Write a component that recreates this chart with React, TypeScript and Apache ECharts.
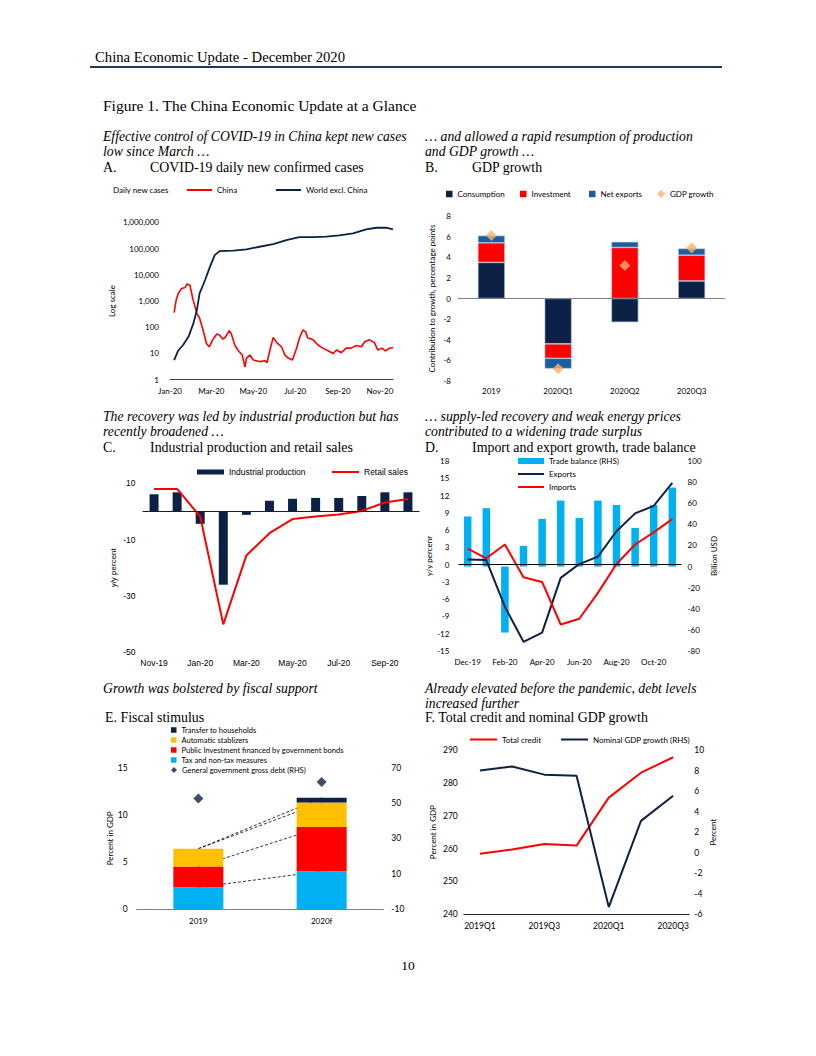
import React, { useEffect, useRef } from 'react';
import * as echarts from 'echarts';

const NAVY = '#0C2145';
const RED = '#FF0000';
const SKY = '#00B0F0';
const GOLD = '#FFC000';
const MIDBLUE = '#1B5E9E';
const ORANGE = '#F9B26A';

// ---------- Panel A: COVID-19 daily new confirmed cases ----------
const covidTickDates = ['2020-01-01', '2020-03-01', '2020-05-01', '2020-07-01', '2020-09-01', '2020-11-01'];
const chinaDates = ['2020-01-07', '2020-01-10', '2020-01-13', '2020-01-18', '2020-01-23', '2020-01-26', '2020-01-30', '2020-02-03', '2020-02-09', '2020-02-13', '2020-02-18', '2020-02-23', '2020-02-27', '2020-03-03', '2020-03-09', '2020-03-13', '2020-03-18', '2020-03-22', '2020-03-27', '2020-03-30', '2020-04-04', '2020-04-09', '2020-04-15', '2020-04-19', '2020-04-21', '2020-04-26', '2020-05-01', '2020-05-10', '2020-05-18', '2020-05-21', '2020-05-25', '2020-05-30', '2020-06-04', '2020-06-11', '2020-06-16', '2020-06-20', '2020-06-27', '2020-07-03', '2020-07-07', '2020-07-12', '2020-07-16', '2020-07-19', '2020-07-27', '2020-08-03', '2020-08-10', '2020-08-17', '2020-08-25', '2020-08-30', '2020-09-06', '2020-09-13', '2020-09-20', '2020-09-28', '2020-10-05', '2020-10-10', '2020-10-17', '2020-10-24', '2020-10-29', '2020-11-04', '2020-11-09', '2020-11-14', '2020-11-20'];
const chinaCases = [360, 1100, 1950, 3000, 3300, 4500, 4000, 1260, 340, 220, 78, 24, 18, 33, 55, 50, 35, 44, 74, 58, 21, 13, 8.7, 3, 6.5, 8.7, 5.6, 4.9, 5.3, 4.5, 13, 41, 26, 18, 8.7, 6.9, 5.6, 16, 38, 78, 68, 40, 33, 21, 16, 13, 10, 13.5, 10.7, 16, 16, 20, 18, 28, 33, 26, 13.5, 16, 12.6, 15.5, 17];
const worldDates = ['2020-01-07', '2020-01-13', '2020-01-20', '2020-01-28', '2020-02-04', '2020-02-09', '2020-02-13', '2020-02-21', '2020-02-28', '2020-03-06', '2020-03-13', '2020-04-02', '2020-04-21', '2020-05-10', '2020-05-30', '2020-06-18', '2020-07-07', '2020-07-27', '2020-08-15', '2020-09-03', '2020-09-23', '2020-10-12', '2020-10-27', '2020-11-10', '2020-11-20'];
const worldCases = [5.6, 13, 21, 44, 140, 450, 1950, 6300, 20000, 56000, 80000, 83000, 93000, 117000, 148000, 210000, 270000, 270000, 282000, 316000, 380000, 537000, 620000, 620000, 540000];

// ---------- Panel B: GDP growth ----------
const gdpCategories = ['2019', '2020Q1', '2020Q2', '2020Q3'];
const consumption = [3.5, -4.4, -2.3, 1.7];
const investment = [1.9, -1.4, 4.95, 2.5];
const netExports = [0.7, -1.0, 0.55, 0.65];
const gdpGrowth = [6.1, -6.8, 3.2, 4.9];

// ---------- Panel C: Industrial production and retail sales ----------
const ipMonths = ['Nov-19', 'Dec-19', 'Jan-20', 'Feb-20', 'Mar-20', 'Apr-20', 'May-20', 'Jun-20', 'Jul-20', 'Aug-20', 'Sep-20', 'Oct-20'];
const industrialProduction = [6.1, 6.8, -4.4, -26, -1.2, 3.8, 4.5, 4.8, 4.8, 5.5, 6.8, 6.8];
const retailSales = [8, 8, -1.8, -40.1, -15.6, -7.7, -2.7, -1.8, -1.1, 0.2, 3.2, 4.4];

// ---------- Panel D: Import and export growth, trade balance ----------
const tradeMonths = ['Dec-19', 'Jan-20', 'Feb-20', 'Mar-20', 'Apr-20', 'May-20', 'Jun-20', 'Jul-20', 'Aug-20', 'Sep-20', 'Oct-20', 'Nov-20'];
const tradeBalance = [47.4, 55.3, -62.5, 19.6, 45.2, 62.5, 46.1, 62.5, 58.4, 36.6, 58.4, 74.8];
const exportGrowth = [0.9, 0.8, -7.3, -13.4, -11.8, -2.3, 0.1, 1.4, 5.8, 8.9, 10.2, 14.2];
const importGrowth = [2.8, 1.1, 3.5, -2.2, -3.0, -10.4, -9.4, -4.9, 0.1, 3.5, 5.6, 7.9];

// ---------- Panel E: Fiscal stimulus ----------
const fiscalYears = ['2019', '2020f'];
const taxMeasures = [2.3, 4.0];
const publicInvestment = [2.2, 4.7];
const autoStabilizers = [1.9, 2.6];
const householdTransfers = [0, 0.5];
const govDebt = [52.5, 61.9];
const debtTicks = [-10, 10, 30, 50, 70];

// ---------- Panel F: Total credit and nominal GDP growth ----------
const creditQuarters = ['2019Q1', '2019Q2', '2019Q3', '2019Q4', '2020Q1', '2020Q2', '2020Q3'];
const totalCredit = [258.4, 259.7, 261.4, 260.9, 275.5, 283.1, 287.8];
const nominalGdpGrowth = [8.0, 8.4, 7.6, 7.5, -5.3, 3.1, 5.55];

const MONTHS = ['Jan', 'Feb', 'Mar', 'Apr', 'May', 'Jun', 'Jul', 'Aug', 'Sep', 'Oct', 'Nov', 'Dec'];
const ts = (s: string) => {
  const [y, m, d] = s.split('-').map(Number);
  return new Date(y, m - 1, d).getTime();
};

const SANS = 'Lato';
const ARIAL = 'Liberation Sans';
const SERIF = 'Liberation Serif';

const lab = (size = 8, family = SANS, extra: any = {}) => ({ fontSize: size, fontFamily: family, color: '#000', ...extra });

const txt = (text: string, x: number, y: number, size: number, extra: any = {}) => ({
  type: 'text',
  x,
  y,
  silent: true,
  style: { text, fontSize: size, fontFamily: SERIF, fill: '#000', verticalAlign: 'middle', ...extra },
});

const leg = (name: string, left: number, cy: number, icon: string, w: number, h: number, size = 8, family = SANS) => ({
  data: [name],
  left,
  top: cy - 5,
  icon,
  itemWidth: w,
  itemHeight: h,
  padding: 0,
  selectedMode: false,
  itemStyle: { borderWidth: 0 },
  textStyle: { fontSize: size, fontFamily: family, color: '#000', lineHeight: 10 },
});

const cum = (arrs: number[][], k: number) => arrs[0].map((_, i) => arrs.slice(0, k + 1).reduce((s, a) => s + a[i], 0));

function buildOption() {
  const it = { fontStyle: 'italic' };
  const S = 13.7;
  const H = 13.9;
  const graphic: any[] = [
    txt('China Economic Update - December 2020', 95, 57, 14.7),
    { type: 'line', silent: true, shape: { x1: 90, y1: 67, x2: 722, y2: 67 }, style: { stroke: '#1F3864', lineWidth: 2 } },
    txt('Figure 1. The China Economic Update at a Glance', 103, 105, 15.5),
    txt('Effective control of COVID-19 in China kept new cases', 103, 136, S, it),
    txt('low since March …', 103, 151.5, S, it),
    txt('A.', 103, 167, H),
    txt('COVID-19 daily new confirmed cases', 150, 167, H),
    txt('… and allowed a rapid resumption of production', 425, 136, S, it),
    txt('and GDP growth …', 425, 151.5, S, it),
    txt('B.', 425, 167, H),
    txt('GDP growth', 472, 167, H),
    txt('The recovery was led by industrial production but has', 103, 416, S, it),
    txt('recently broadened …', 103, 431.5, S, it),
    txt('C.', 103, 447, H),
    txt('Industrial production and retail sales', 150, 447, H),
    txt('… supply-led recovery and weak energy prices', 425, 416, S, it),
    txt('contributed to a widening trade surplus', 425, 431.5, S, it),
    txt('D.', 425, 447, H),
    txt('Import and export growth, trade balance', 472, 447, H),
    txt('Growth was bolstered by fiscal support', 103, 688, S, it),
    txt('E. Fiscal stimulus', 105, 717, H),
    txt('Already elevated before the pandemic, debt levels', 425, 688, S, it),
    txt('increased further', 425, 703, S, it),
    txt('F. Total credit and nominal GDP growth', 425, 717, H),
    txt('10', 408, 965, 13.5, { align: 'center' }),
    {
      type: 'text', x: 113, y: 190, silent: true,
      style: { text: 'Daily new cases', fontSize: 8, fontFamily: SANS, fill: '#000', verticalAlign: 'middle' },
    },
  ];

  const legend: any[] = [
    leg('China', 187, 190, 'rect', 25, 2),
    leg('World excl. China', 276, 190, 'rect', 25, 2),
    leg('Consumption', 446, 194, 'rect', 6.5, 6.5),
    leg('Investment', 520, 194, 'rect', 6.5, 6.5),
    leg('Net exports', 589, 194, 'rect', 6.5, 6.5),
    leg('GDP growth', 657, 194, 'diamond', 8, 8),
    leg('Industrial production', 197, 472, 'rect', 27, 5, 8.5, ARIAL),
    leg('Retail sales', 332, 472, 'rect', 27, 2, 8.5, ARIAL),
    leg('Trade balance (RHS)', 518, 461, 'rect', 26, 6),
    leg('Exports', 518, 474, 'rect', 26, 2),
    leg('Imports', 518, 487, 'rect', 26, 2),
    leg('Transfer to households', 171, 730, 'rect', 5.5, 5.5, 7.5),
    leg('Automatic stablizers', 171, 740, 'rect', 5.5, 5.5, 7.5),
    leg('Public Investment financed by government bonds', 171, 750, 'rect', 5.5, 5.5, 7.5),
    leg('Tax and non-tax measures', 171, 760, 'rect', 5.5, 5.5, 7.5),
    leg('General government gross debt (RHS)', 171, 770, 'diamond', 6, 6, 7.5),
    leg('Total credit', 470, 739.5, 'rect', 27, 2),
    leg('Nominal GDP growth (RHS)', 561, 739.5, 'rect', 27, 2),
  ];

  const g = (left: number, top: number, width: number, height: number) => ({ left, top, width, height, containLabel: false });
  const grid = [
    g(170, 222.3, 223, 157.4),
    g(458, 216, 267, 165),
    g(142.5, 483.3, 277, 169),
    g(458.4, 461, 223.2, 190),
    g(136.7, 767.7, 246.6, 141.3),
    g(463.8, 750, 225.5, 164.3),
  ];

  const noLine = { show: false };
  const xAxis: any[] = [
    {
      type: 'value', gridIndex: 0, min: ts('2020-01-01'), max: ts('2020-11-20'),
      axisLine: { show: true, onZero: false, lineStyle: { color: '#404040', width: 1 } },
      axisTick: noLine, splitLine: noLine,
      axisLabel: {
        ...lab(8), margin: 7,
        customValues: covidTickDates.map(ts),
        formatter: (v: number) => { const d = new Date(v); return MONTHS[d.getMonth()] + '-' + String(d.getFullYear()).slice(2); },
      },
    },
    {
      type: 'category', gridIndex: 1, data: gdpCategories,
      axisLine: noLine, axisTick: noLine, axisLabel: { ...lab(8), margin: 6 },
    },
    {
      type: 'category', gridIndex: 2, data: ipMonths,
      axisLine: noLine, axisTick: noLine, axisLabel: { ...lab(8.5, ARIAL), margin: 6, interval: 1 },
    },
    {
      type: 'category', gridIndex: 3, data: tradeMonths,
      axisLine: noLine, axisTick: noLine, axisLabel: { ...lab(8), margin: 7, interval: 1 },
    },
    {
      type: 'category', gridIndex: 4, data: fiscalYears,
      axisLine: { show: true, onZero: false, lineStyle: { color: '#808080', width: 1 } }, axisTick: noLine,
      axisLabel: { ...lab(8), margin: 8 },
    },
    {
      type: 'category', gridIndex: 5, data: creditQuarters,
      axisLine: { show: true, onZero: false, lineStyle: { color: '#262626', width: 1 } }, axisTick: noLine,
      axisLabel: { ...lab(8.5), margin: 7, interval: 1 },
    },
  ];

  const nameStyle = (family = SANS, size = 8) => ({ fontSize: size, fontFamily: family, color: '#000' });
  const yAxis: any[] = [
    {
      type: 'log', logBase: 10, gridIndex: 0, min: 1, max: 1000000,
      axisLine: noLine, axisTick: noLine, splitLine: noLine,
      axisLabel: { ...lab(8), margin: 11, formatter: (v: number) => Math.round(v).toLocaleString('en-US') },
      name: 'Log scale', nameLocation: 'middle', nameGap: 54, nameTextStyle: nameStyle(),
    },
    {
      type: 'value', gridIndex: 1, min: -8, max: 8, interval: 2,
      axisLine: noLine, axisTick: noLine, splitLine: noLine,
      axisLabel: { ...lab(8), margin: 7 },
      name: 'Contribution to growth, percentage points', nameLocation: 'middle', nameGap: 22, nameTextStyle: nameStyle(),
    },
    {
      type: 'value', gridIndex: 2, min: -50, max: 10, interval: 20,
      axisLine: noLine, axisTick: noLine, splitLine: noLine,
      axisLabel: { ...lab(8.5, ARIAL), margin: 7, customValues: [-50, -30, -10, 10] },
      name: 'y/y percent', nameLocation: 'middle', nameGap: 25, nameTextStyle: nameStyle(ARIAL),
    },
    {
      type: 'value', gridIndex: 3, min: -15, max: 18, interval: 3,
      axisLine: noLine, axisTick: noLine, splitLine: noLine,
      axisLabel: { ...lab(8), margin: 9 },
      name: 'y/y percenr', nameLocation: 'middle', nameGap: 24, nameTextStyle: nameStyle(),
    },
    {
      type: 'value', gridIndex: 3, position: 'right', min: -80, max: 100, interval: 20,
      axisLine: noLine, axisTick: noLine, splitLine: noLine,
      axisLabel: { ...lab(8), margin: 6 },
      name: 'Billion USD', nameLocation: 'middle', nameGap: 28, nameRotate: 90, nameTextStyle: nameStyle(),
    },
    {
      type: 'value', gridIndex: 4, min: 0, max: 15, interval: 5,
      axisLine: noLine, axisTick: noLine, splitLine: noLine,
      axisLabel: { ...lab(8.5), margin: 9 },
      name: 'Percent in GDP', nameLocation: 'middle', nameGap: 21, nameTextStyle: nameStyle(),
    },
    {
      type: 'value', gridIndex: 4, position: 'right', min: -10, max: 70, interval: 20,
      axisLine: noLine, axisTick: noLine, splitLine: noLine,
      axisLabel: { ...lab(8.5), margin: 8, customValues: debtTicks },
    },
    {
      type: 'value', gridIndex: 5, min: 240, max: 290, interval: 10,
      axisLine: noLine, axisTick: noLine, splitLine: noLine,
      axisLabel: { ...lab(8.5), margin: 6 },
      name: 'Percent in GDP', nameLocation: 'middle', nameGap: 27, nameTextStyle: nameStyle(),
    },
    {
      type: 'value', gridIndex: 5, position: 'right', min: -6, max: 10, interval: 2,
      axisLine: noLine, axisTick: noLine, splitLine: noLine,
      axisLabel: { ...lab(8.5), margin: 5 },
      name: 'Percent', nameLocation: 'middle', nameGap: 20, nameRotate: 90, nameTextStyle: nameStyle(),
    },
  ];

  const zeroLine = (color: string, width = 1) => ({
    silent: true, symbol: ['none', 'none'], label: { show: false },
    lineStyle: { color, width, type: 'solid' }, data: [{ yAxis: 0 }],
  });

  const fiscalStack = [taxMeasures, publicInvestment, autoStabilizers, householdTransfers];
  const connector = (k: number) => ({
    type: 'line', xAxisIndex: 4, yAxisIndex: 5, z: 1, symbol: 'none', silent: true,
    data: cum(fiscalStack, k),
    lineStyle: { color: '#000', width: 0.8, type: [3, 2] },
    itemStyle: { color: '#000' },
  });

  const series: any[] = [
    // A
    {
      name: 'China', type: 'line', xAxisIndex: 0, yAxisIndex: 0, symbol: 'none',
      data: chinaDates.map((d, i) => [ts(d), chinaCases[i]]),
      lineStyle: { color: RED, width: 1.6 }, itemStyle: { color: RED },
    },
    {
      name: 'World excl. China', type: 'line', xAxisIndex: 0, yAxisIndex: 0, symbol: 'none',
      data: worldDates.map((d, i) => [ts(d), worldCases[i]]),
      lineStyle: { color: NAVY, width: 1.8 }, itemStyle: { color: NAVY },
    },
    // B
    {
      name: 'Consumption', type: 'bar', xAxisIndex: 1, yAxisIndex: 1, stack: 'gdp', barWidth: 27,
      data: consumption, itemStyle: { color: NAVY, borderColor: '#B4C7E7', borderWidth: 0.6 },
      markLine: zeroLine('#7F7F7F', 1),
    },
    {
      name: 'Investment', type: 'bar', xAxisIndex: 1, yAxisIndex: 1, stack: 'gdp', barWidth: 27,
      data: investment, itemStyle: { color: RED, borderColor: '#B4C7E7', borderWidth: 0.6 },
    },
    {
      name: 'Net exports', type: 'bar', xAxisIndex: 1, yAxisIndex: 1, stack: 'gdp', barWidth: 27,
      data: netExports, itemStyle: { color: MIDBLUE, borderColor: '#B4C7E7', borderWidth: 0.6 },
    },
    {
      name: 'GDP growth', type: 'scatter', xAxisIndex: 1, yAxisIndex: 1, symbol: 'diamond', symbolSize: 11,
      data: gdpGrowth, itemStyle: { color: ORANGE }, z: 5,
    },
    // C
    {
      name: 'Industrial production', type: 'bar', xAxisIndex: 2, yAxisIndex: 2, barWidth: 9,
      data: industrialProduction, itemStyle: { color: NAVY },
      markLine: zeroLine('#1A1A2E', 1.2),
    },
    {
      name: 'Retail sales', type: 'line', xAxisIndex: 2, yAxisIndex: 2, symbol: 'none',
      data: retailSales, lineStyle: { color: RED, width: 2 }, itemStyle: { color: RED }, z: 4,
    },
    // D
    {
      name: 'Trade balance (RHS)', type: 'bar', xAxisIndex: 3, yAxisIndex: 4, barWidth: 7.5,
      data: tradeBalance, itemStyle: { color: SKY },
    },
    {
      name: 'Exports', type: 'line', xAxisIndex: 3, yAxisIndex: 3, symbol: 'none',
      data: exportGrowth, lineStyle: { color: NAVY, width: 2 }, itemStyle: { color: NAVY }, z: 4,
      markLine: zeroLine('#000', 1.2),
    },
    {
      name: 'Imports', type: 'line', xAxisIndex: 3, yAxisIndex: 3, symbol: 'none',
      data: importGrowth, lineStyle: { color: RED, width: 2 }, itemStyle: { color: RED }, z: 4,
    },
    // E
    connector(0),
    connector(1),
    connector(2),
    connector(3),
    {
      name: 'Tax and non-tax measures', type: 'bar', xAxisIndex: 4, yAxisIndex: 5, stack: 'fiscal', barWidth: 50,
      data: taxMeasures, itemStyle: { color: SKY }, z: 2,
    },
    {
      name: 'Public Investment financed by government bonds', type: 'bar', xAxisIndex: 4, yAxisIndex: 5, stack: 'fiscal', barWidth: 50,
      data: publicInvestment, itemStyle: { color: RED }, z: 2,
    },
    {
      name: 'Automatic stablizers', type: 'bar', xAxisIndex: 4, yAxisIndex: 5, stack: 'fiscal', barWidth: 50,
      data: autoStabilizers, itemStyle: { color: GOLD }, z: 2,
    },
    {
      name: 'Transfer to households', type: 'bar', xAxisIndex: 4, yAxisIndex: 5, stack: 'fiscal', barWidth: 50,
      data: householdTransfers, itemStyle: { color: NAVY }, z: 2,
    },
    {
      name: 'General government gross debt (RHS)', type: 'scatter', xAxisIndex: 4, yAxisIndex: 6,
      symbol: 'diamond', symbolSize: 10, data: govDebt, itemStyle: { color: NAVY }, z: 5,
    },
    // F
    {
      name: 'Total credit', type: 'line', xAxisIndex: 5, yAxisIndex: 7, symbol: 'none',
      data: totalCredit, lineStyle: { color: RED, width: 2 }, itemStyle: { color: RED },
    },
    {
      name: 'Nominal GDP growth (RHS)', type: 'line', xAxisIndex: 5, yAxisIndex: 8, symbol: 'none',
      data: nominalGdpGrowth, lineStyle: { color: NAVY, width: 2 }, itemStyle: { color: NAVY },
    },
  ];

  return {
    animation: false,
    backgroundColor: '#fff',
    textStyle: { fontFamily: SANS },
    graphic,
    legend,
    grid,
    xAxis,
    yAxis,
    series,
  };
}

export default function App() {
  const ref = useRef<HTMLDivElement>(null);
  useEffect(() => {
    if (!ref.current) return;
    const chart = echarts.init(ref.current, null, { renderer: 'svg' });
    chart.setOption(buildOption() as any);
    return () => chart.dispose();
  }, []);
  return (
    <div
      ref={ref}
      style={{ position: 'absolute', left: 0, top: 0, width: 816, height: 1056, background: '#fff' }}
    />
  );
}
